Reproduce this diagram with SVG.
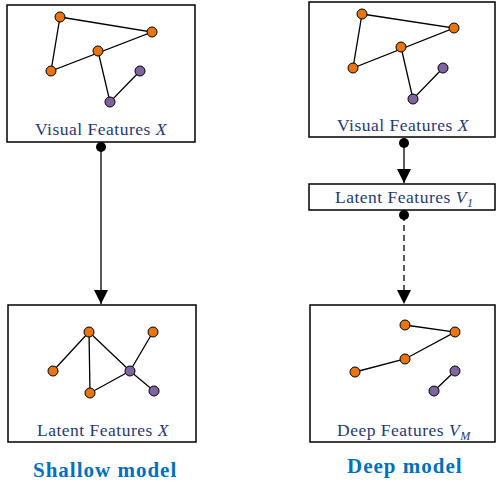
<svg xmlns="http://www.w3.org/2000/svg" width="496" height="484" viewBox="0 0 496 484">
  <defs>
    <marker id="arrow" markerWidth="14" markerHeight="14" refX="14" refY="7" orient="auto" markerUnits="userSpaceOnUse">
      <path d="M0,0 L14,7 L0,14 Z" fill="#000"/>
    </marker>
    <style>
      .box { fill: #fff; stroke: #000; stroke-width: 1.5; }
      .edge { stroke: #000; stroke-width: 1.3; fill: none; }
      .o { fill: #E87511; stroke: #000; stroke-width: 1; }
      .p { fill: #8064A2; stroke: #000; stroke-width: 1; }
      .lbl { font-family: "Liberation Serif", "Times New Roman", serif; font-size: 17.5px; fill: #1F3A78; letter-spacing: 0.5px; }
      .title { font-family: "Liberation Serif", "Times New Roman", serif; font-size: 21px; font-weight: bold; fill: #0070C0; letter-spacing: 1px; }
      .conn { stroke: #000; stroke-width: 1.3; fill: none; }
      .dot { fill: #000; }
    </style>
  </defs>

  <!-- Shallow model: visual features -->
  <g id="shallow-visual">
    <rect class="box" x="7" y="5" width="188" height="137"/>
    <path class="edge" d="M60,17 L152,32 L51,71 Z M98,51 L110,102 L140,71"/>
    <circle class="o" cx="60" cy="17" r="5"/>
    <circle class="o" cx="152" cy="32" r="5"/>
    <circle class="o" cx="98" cy="51" r="5"/>
    <circle class="o" cx="51" cy="71" r="5"/>
    <circle class="p" cx="140" cy="71" r="5"/>
    <circle class="p" cx="110" cy="102" r="5"/>
    <text class="lbl" x="35" y="135">Visual Features <tspan font-style="italic">X</tspan></text>
  </g>

  <!-- Shallow model: latent features -->
  <g id="shallow-latent">
    <rect class="box" x="8" y="305" width="188" height="137"/>
    <path class="edge" d="M89,332 L53,371 M89,332 L90,393 L130,371 L154,391 M89,332 L130,371 L153,332"/>
    <circle class="o" cx="89" cy="332" r="5"/>
    <circle class="o" cx="153" cy="332" r="5"/>
    <circle class="o" cx="53" cy="371" r="5"/>
    <circle class="p" cx="130" cy="371" r="5"/>
    <circle class="o" cx="90" cy="393" r="5"/>
    <circle class="p" cx="154" cy="391" r="5"/>
    <text class="lbl" x="37" y="436">Latent Features <tspan font-style="italic">X</tspan></text>
  </g>

  <!-- Deep model: visual features -->
  <g id="deep-visual">
    <rect class="box" x="309" y="2" width="186" height="135"/>
    <path class="edge" d="M362,14 L454,28 L353,68 Z M401,47 L413,99 L443,68"/>
    <circle class="o" cx="362" cy="14" r="5"/>
    <circle class="o" cx="454" cy="28" r="5"/>
    <circle class="o" cx="401" cy="47" r="5"/>
    <circle class="o" cx="353" cy="68" r="5"/>
    <circle class="p" cx="443" cy="68" r="5"/>
    <circle class="p" cx="413" cy="99" r="5"/>
    <text class="lbl" x="337" y="131">Visual Features <tspan font-style="italic">X</tspan></text>
  </g>

  <!-- Deep model: first latent layer -->
  <g id="deep-latent">
    <rect class="box" x="309" y="184" width="186" height="26"/>
    <text class="lbl" x="335" y="203">Latent Features <tspan font-style="italic">V</tspan><tspan font-style="italic" font-size="12px" dy="4">1</tspan></text>
  </g>

  <!-- Deep model: deep features -->
  <g id="deep-features">
    <rect class="box" x="310" y="305" width="185" height="137"/>
    <path class="edge" d="M405,325 L455,332 L405,359 L355,372 M455,371 L434,391"/>
    <circle class="o" cx="405" cy="325" r="5"/>
    <circle class="o" cx="455" cy="332" r="5"/>
    <circle class="o" cx="405" cy="359" r="5"/>
    <circle class="o" cx="355" cy="372" r="5"/>
    <circle class="p" cx="455" cy="371" r="5"/>
    <circle class="p" cx="434" cy="391" r="5"/>
    <text class="lbl" x="337" y="436">Deep Features <tspan font-style="italic">V</tspan><tspan font-style="italic" font-size="12px" dy="4">M</tspan></text>
  </g>

  <!-- Connectors -->
  <g id="connectors">
    <line class="conn" x1="101" y1="147" x2="101" y2="304" marker-end="url(#arrow)"/>
    <circle class="dot" cx="101" cy="147" r="5"/>
    <line class="conn" x1="404" y1="143" x2="404" y2="183" marker-end="url(#arrow)"/>
    <circle class="dot" cx="404" cy="143" r="5"/>
    <line class="conn" x1="404" y1="215" x2="404" y2="304" stroke-dasharray="6,4" marker-end="url(#arrow)"/>
    <circle class="dot" cx="404" cy="215" r="5"/>
  </g>

  <!-- Captions -->
  <text class="title" x="33" y="477">Shallow model</text>
  <text class="title" x="347" y="473">Deep model</text>
</svg>
